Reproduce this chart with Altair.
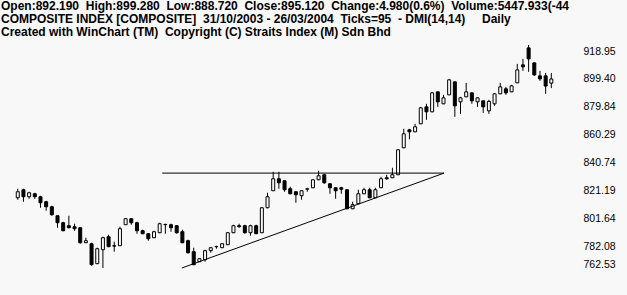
import altair as alt
import pandas as pd

BG = "#f8f8f8"

opens = [811.80, 817.41, 812.50, 814.60, 812.50, 809.00, 805.49, 799.19, 794.28, 792.18,
         791.48, 790.78, 780.27, 779.57, 765.55, 775.36, 784.47, 778.16, 778.16, 792.88,
         797.08, 794.28, 788.68, 786.57, 783.77, 787.27, 792.88, 792.88, 792.18, 787.97,
         781.67, 773.96, 766.95, 768.35, 774.66, 777.46, 776.76, 778.86, 787.27, 792.18,
         792.18, 787.27, 792.18, 787.27, 804.79, 816.71, 825.12, 823.72, 818.11, 816.01,
         813.20, 817.80, 818.81, 824.42, 827.92, 821.61, 818.81, 818.81, 817.41, 804.09,
         807.60, 814.60, 817.41, 811.80, 818.81, 825.82, 825.82, 827.92, 846.84, 859.46,
         858.05, 863.66, 875.57, 872.07, 886.09, 877.68, 883.98, 893.09, 879.08, 882.58,
         885.39, 879.08, 879.78, 872.77, 877.68, 884.68, 888.19, 886.09, 892.39, 905.01,
         916.92, 906.41, 897.30, 897.30, 892.19]
highs = [818.11, 818.11, 816.01, 815.31, 813.20, 809.70, 806.20, 799.19, 794.98, 799.19,
         793.58, 790.78, 783.77, 780.27, 776.76, 784.47, 785.87, 780.97, 791.48, 797.30,
         797.30, 794.98, 789.38, 786.80, 788.68, 794.28, 793.58, 793.58, 792.50, 789.38,
         782.37, 776.76, 769.40, 775.36, 777.00, 778.16, 779.80, 787.50, 792.88, 793.58,
         792.88, 792.88, 792.88, 805.10, 815.31, 830.02, 830.02, 823.90, 819.51, 816.20,
         816.90, 818.81, 824.60, 830.72, 828.62, 821.80, 819.00, 819.51, 817.60, 809.00,
         817.41, 818.81, 818.81, 818.81, 826.52, 827.92, 832.83, 845.60, 860.16, 860.16,
         863.66, 875.57, 877.68, 885.70, 886.30, 883.98, 895.20, 893.40, 882.58, 892.39,
         885.60, 882.10, 880.00, 880.48, 884.90, 892.39, 889.59, 890.99, 905.71, 909.21,
         918.95, 906.60, 900.80, 899.40, 899.28]
lows = [810.40, 809.00, 811.10, 811.10, 804.79, 802.69, 799.19, 790.78, 788.30, 790.40,
        788.68, 779.57, 780.00, 764.15, 765.30, 762.53, 777.20, 773.96, 778.00, 792.70,
        792.88, 786.57, 786.30, 781.67, 783.50, 787.00, 786.57, 787.97, 786.57, 779.90,
        772.56, 764.50, 766.70, 766.95, 773.26, 776.06, 776.50, 778.60, 787.00, 790.78,
        786.57, 785.17, 786.30, 787.00, 804.50, 816.50, 818.11, 816.01, 814.30, 808.30,
        810.40, 816.01, 818.60, 824.20, 821.61, 814.60, 811.10, 814.60, 803.70, 803.80,
        807.40, 814.40, 811.50, 811.50, 818.60, 824.42, 825.60, 827.70, 846.60, 852.80,
        857.80, 863.40, 866.46, 871.80, 875.57, 877.50, 883.80, 868.57, 870.67, 882.40,
        877.68, 875.57, 871.37, 870.67, 876.28, 884.50, 883.98, 885.90, 892.20, 900.80,
        900.10, 897.30, 893.80, 884.68, 888.72]
closes = [816.01, 812.50, 815.31, 812.50, 808.30, 805.49, 799.89, 794.28, 788.68, 790.78,
          790.08, 780.27, 781.67, 764.85, 776.06, 783.77, 777.46, 777.90, 790.08, 797.08,
          794.28, 788.68, 786.57, 783.07, 787.97, 793.58, 793.10, 790.78, 787.27, 780.27,
          773.26, 764.85, 769.05, 774.66, 776.76, 777.60, 779.57, 787.27, 792.18, 791.48,
          787.27, 792.18, 786.57, 804.79, 812.50, 825.12, 822.31, 817.41, 814.60, 813.90,
          816.71, 818.11, 824.42, 827.22, 822.31, 818.81, 816.71, 817.80, 804.09, 806.90,
          814.60, 817.41, 811.80, 817.41, 825.12, 825.12, 827.92, 845.44, 856.65, 858.05,
          861.56, 874.87, 872.07, 885.39, 879.08, 881.88, 894.50, 876.28, 881.88, 886.09,
          879.78, 881.88, 875.57, 879.40, 884.68, 889.59, 885.39, 890.29, 901.50, 903.61,
          909.21, 898.00, 895.20, 890.14, 895.12]

# drawn trend lines (tick index / price)
line_x0 = [25.45, 28.9]
line_x1 = [75.1, 75.1]
line_y0 = [829.1, 762.53]
line_y1 = [829.1, 829.1]

price_ticks = [918.95, 899.40, 879.84, 860.29, 840.74, 821.19, 801.64, 782.08, 762.53]

header = [
    "Open:892.190\u00a0\u00a0High:899.280\u00a0\u00a0Low:888.720\u00a0\u00a0Close:895.120\u00a0\u00a0Change:4.980(0.6%)\u00a0\u00a0Volume:5447.933(-44",
    "COMPOSITE INDEX [COMPOSITE]\u00a0\u00a031/10/2003 - 26/03/2004\u00a0\u00a0Ticks=95\u00a0\u00a0- DMI(14,14)\u00a0\u00a0\u00a0\u00a0\u00a0Daily",
    "Created with WinChart (TM)\u00a0\u00a0Copyright (C) Straits Index (M) Sdn Bhd",
]

df = pd.DataFrame({
    "idx": list(range(len(opens))),
    "open": opens, "high": highs, "low": lows, "close": closes,
})
lines = pd.DataFrame({"x0": line_x0, "x1": line_x1, "y0": line_y0, "y1": line_y1})

FONT = "Liberation Sans"

xscale = alt.Scale(domain=[-2.25, 97.29], nice=False, zero=False)
yscale = alt.Scale(domain=[762.53, 918.95], nice=False, zero=False)

xenc = alt.X("idx:Q", scale=xscale, axis=None)
yaxis = alt.Axis(
    orient="right", values=price_ticks, format=".2f", domain=False, ticks=False,
    grid=False, labelPadding=8, labelFont=FONT, labelFontSize=10.5,
    labelColor="black", labelAlign="left", labelOverlap=False, labelOffset=1,
    labelBaseline={"condition": {"test": "datum.value < 770", "value": "bottom"}, "value": "top"},
    title=None,
)

wicks = alt.Chart(df).mark_rule(color="black", strokeWidth=1).encode(
    x=xenc,
    y=alt.Y("low:Q", scale=yscale, axis=yaxis),
    y2="high:Q",
)

bodies = alt.Chart(df).mark_bar(size=3, stroke="black", strokeWidth=1).encode(
    x=xenc,
    y=alt.Y("open:Q", scale=yscale, axis=yaxis),
    y2="close:Q",
    fill=alt.condition("datum.close < datum.open", alt.value("black"), alt.value(BG)),
)

trend = alt.Chart(lines).mark_rule(color="black", strokeWidth=1).encode(
    x=alt.X("x0:Q", scale=xscale, axis=None),
    x2="x1:Q",
    y=alt.Y("y0:Q", scale=yscale, axis=yaxis),
    y2="y1:Q",
)

texts = []
for i, t in enumerate(header):
    texts.append(
        alt.Chart(pd.DataFrame({"t": [t]})).mark_text(
            align="left", baseline="alphabetic", font=FONT, fontSize=12,
            fontWeight="bold", color="black",
        ).encode(x=alt.value(1), y=alt.value(-35 + 13 * i), text="t:N")
    )

chart = alt.layer(wicks, bodies, trend, *texts).properties(
    width=575, height=223,
    autosize=alt.AutoSizeParams(type="none"),
    padding={"left": 0, "top": 45, "right": 52, "bottom": 27},
    background=BG,
).configure_view(strokeWidth=0).configure_axis(labelOverlap=False)

chart.save("out.html", embed_options={"renderer": "svg", "actions": False})
